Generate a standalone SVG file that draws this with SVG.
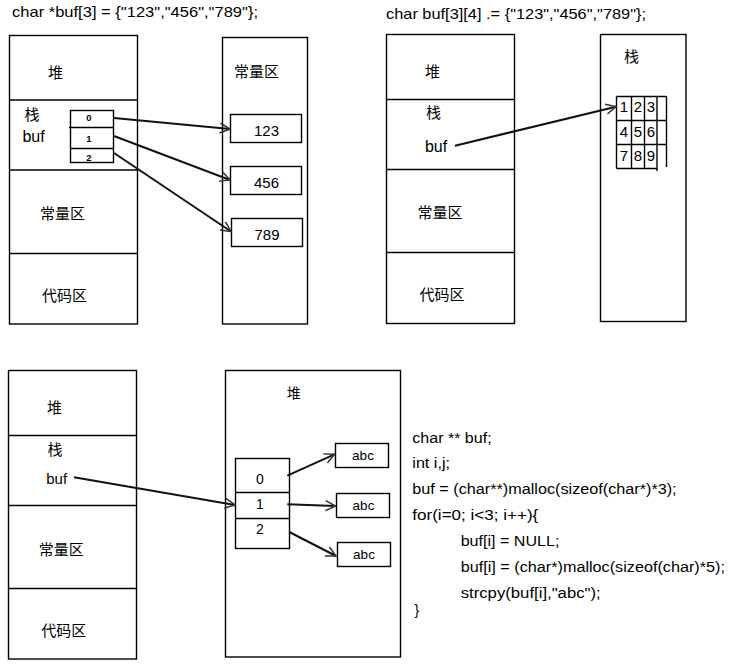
<svg xmlns="http://www.w3.org/2000/svg" width="730" height="669" viewBox="0 0 730 669">
<style>
.box{fill:#fff;stroke:#000;stroke-width:1.4}
.ln{stroke:#000;stroke-width:1.4;fill:none}
.t{font-family:"Liberation Sans","Noto Sans CJK SC",sans-serif;fill:#000}
.cj{font-family:"Noto Sans CJK SC","Noto Sans",sans-serif;font-size:15px;fill:#000;text-anchor:middle}
.c{text-anchor:middle}
.arr{stroke:#111;stroke-width:2;fill:none;marker-end:url(#ah)}
</style>
<defs>
<marker id="ah" viewBox="0 0 12 12" markerWidth="12" markerHeight="12" refX="11" refY="6" orient="auto" markerUnits="userSpaceOnUse">
<path d="M1,1 L11,6 L1,11" fill="none" stroke="#333" stroke-width="1.5"/>
</marker>
</defs>
<rect width="730" height="669" fill="#fff"/>

<!-- Titles -->
<text id="title1" class="t" x="12" y="17" font-size="15" textLength="246" lengthAdjust="spacingAndGlyphs">char *buf[3] = {"123","456","789"};</text>
<text id="title2" class="t" x="386" y="18.5" font-size="15" textLength="260" lengthAdjust="spacingAndGlyphs">char buf[3][4] .= {"123","456","789"};</text>

<!-- Diagram 1: memory layout -->
<g id="mem1">
<rect class="box" x="9.5" y="35.5" width="128" height="288.5"/>
<line class="ln" x1="9.5" y1="100" x2="137.5" y2="100"/>
<line class="ln" x1="9.5" y1="170" x2="137.5" y2="170"/>
<line class="ln" x1="9.5" y1="253.5" x2="137.5" y2="253.5"/>
<text class="cj" x="55.5" y="78">堆</text>
<text class="cj" x="32" y="120">栈</text>
<text class="t c" x="33.5" y="142" font-size="16">buf</text>
<text class="cj" x="62.5" y="219">常量区</text>
<text class="cj" x="64.5" y="301">代码区</text>
</g>
<g id="arr1">
<rect class="box" x="70.5" y="110.5" width="43" height="52"/>
<line class="ln" x1="69" y1="127.5" x2="113.5" y2="127.5"/>
<line class="ln" x1="70.5" y1="148.5" x2="113.5" y2="148.5"/>
<text class="t c" x="89" y="120.5" font-size="9.5" font-weight="bold">0</text>
<text class="t c" x="89" y="141.5" font-size="9.5" font-weight="bold">1</text>
<text class="t c" x="89" y="160.5" font-size="9.5" font-weight="bold">2</text>
</g>
<g id="const1">
<rect class="box" x="222.5" y="37.5" width="85" height="286.5"/>
<text class="cj" x="256.5" y="77">常量区</text>
</g>
<g id="s123"><rect class="box" x="230.5" y="114.5" width="71" height="28"/><text class="t c" x="266.5" y="136" font-size="15">123</text></g>
<g id="s456"><rect class="box" x="230.5" y="166.5" width="71" height="28"/><text class="t c" x="266.5" y="188" font-size="15">456</text></g>
<g id="s789"><rect class="box" x="231.5" y="218.5" width="71" height="28"/><text class="t c" x="267" y="240" font-size="15">789</text></g>

<!-- Diagram 2 -->
<g id="mem2">
<rect class="box" x="386.5" y="34.5" width="128" height="289"/>
<line class="ln" x1="386.5" y1="99.5" x2="514.5" y2="99.5"/>
<line class="ln" x1="386.5" y1="169.5" x2="514.5" y2="169.5"/>
<line class="ln" x1="386.5" y1="252.5" x2="514.5" y2="252.5"/>
<text class="cj" x="432.5" y="77">堆</text>
<text class="cj" x="433.5" y="118">栈</text>
<text class="t c" x="436" y="152" font-size="16">buf</text>
<text class="cj" x="440" y="218">常量区</text>
<text class="cj" x="442" y="299.5">代码区</text>
</g>
<g id="stack2">
<rect class="box" x="600.5" y="34.5" width="85.5" height="287"/>
<text class="cj" x="631.5" y="62">栈</text>
</g>
<g id="grid">
<line class="ln" x1="616.5" y1="96.5" x2="666.5" y2="96.5"/>
<line class="ln" x1="616.5" y1="120.5" x2="666.5" y2="120.5"/>
<line class="ln" x1="616.5" y1="144.5" x2="666.5" y2="144.5"/>
<line class="ln" x1="616.5" y1="168.5" x2="657" y2="168.5"/>
<line class="ln" x1="616.5" y1="96.5" x2="616.5" y2="168.5"/>
<line class="ln" x1="631.5" y1="96.5" x2="631.5" y2="168.5"/>
<line class="ln" x1="644.5" y1="96.5" x2="644.5" y2="168.5"/>
<line class="ln" x1="657" y1="96.5" x2="657" y2="171"/>
<line class="ln" x1="666.5" y1="96.5" x2="666.5" y2="167"/>
<text class="t c" x="624" y="112" font-size="15">1</text>
<text class="t c" x="638" y="112" font-size="15">2</text>
<text class="t c" x="651" y="112" font-size="15">3</text>
<text class="t c" x="624" y="137" font-size="15">4</text>
<text class="t c" x="638" y="137" font-size="15">5</text>
<text class="t c" x="651" y="137" font-size="15">6</text>
<text class="t c" x="624" y="161" font-size="15">7</text>
<text class="t c" x="638" y="161" font-size="15">8</text>
<text class="t c" x="651" y="161" font-size="15">9</text>
</g>

<!-- Diagram 3 -->
<g id="mem3">
<rect class="box" x="8.5" y="370.5" width="128" height="288.5"/>
<line class="ln" x1="8.5" y1="435.5" x2="136.5" y2="435.5"/>
<line class="ln" x1="8.5" y1="505.5" x2="136.5" y2="505.5"/>
<line class="ln" x1="8.5" y1="588.5" x2="136.5" y2="588.5"/>
<text class="cj" x="54.5" y="413">堆</text>
<text class="cj" x="55" y="455">栈</text>
<text class="t c" x="56.7" y="484" font-size="15">buf</text>
<text class="cj" x="61.3" y="555">常量区</text>
<text class="cj" x="63.7" y="635.5">代码区</text>
</g>
<g id="heap3">
<rect class="box" x="225.5" y="370.5" width="175" height="286.5"/>
<text class="cj" x="293.7" y="398" style="font-size:14px">堆</text>
</g>
<g id="parr">
<rect class="box" x="235.5" y="458.5" width="54" height="90"/>
<line class="ln" x1="235.5" y1="492.5" x2="289.5" y2="492.5"/>
<line class="ln" x1="235.5" y1="518.5" x2="289.5" y2="518.5"/>
<text class="t c" x="260" y="484" font-size="14">0</text>
<text class="t c" x="260" y="509" font-size="14">1</text>
<text class="t c" x="260" y="534" font-size="14">2</text>
</g>
<g id="abc1"><rect class="box" x="335.5" y="443.5" width="53" height="24"/><text class="t c" x="363" y="459.5" font-size="13.5">abc</text></g>
<g id="abc2"><rect class="box" x="336.5" y="493.5" width="53" height="24"/><text class="t c" x="363.5" y="509.5" font-size="13.5">abc</text></g>
<g id="abc3"><rect class="box" x="337.5" y="542.5" width="53" height="24"/><text class="t c" x="364" y="559" font-size="13.5">abc</text></g>

<!-- Code -->
<g id="code" class="t" font-size="14">
<text x="412.3" y="442.7" textLength="79.3" lengthAdjust="spacingAndGlyphs">char ** buf;</text>
<text x="412.3" y="468.3" textLength="37.7" lengthAdjust="spacingAndGlyphs">int i,j;</text>
<text x="412.3" y="494" textLength="264.3" lengthAdjust="spacingAndGlyphs">buf = (char**)malloc(sizeof(char*)*3);</text>
<text x="412.3" y="520" textLength="126" lengthAdjust="spacingAndGlyphs">for(i=0; i&lt;3; i++){</text>
<text x="460.7" y="546.3" textLength="98.7" lengthAdjust="spacingAndGlyphs">buf[i] = NULL;</text>
<text x="460.7" y="572" textLength="264.3" lengthAdjust="spacingAndGlyphs">buf[i] = (char*)malloc(sizeof(char)*5);</text>
<text x="460.7" y="597.7" textLength="140" lengthAdjust="spacingAndGlyphs">strcpy(buf[i],"abc");</text>
<text x="414.5" y="615">}</text>
</g>

<!-- Connectors -->
<g id="connectors">
<line class="arr" x1="114" y1="118" x2="230" y2="129"/>
<line class="arr" x1="114" y1="136" x2="230" y2="180"/>
<line class="arr" x1="114" y1="153" x2="231" y2="231.5"/>
<line class="arr" x1="455" y1="145.7" x2="616" y2="106.7"/>
<line class="arr" x1="74" y1="477.3" x2="235" y2="505"/>
<line class="arr" x1="287.3" y1="475.7" x2="334.5" y2="454.3"/>
<line class="arr" x1="287.3" y1="504.3" x2="335.5" y2="506"/>
<line class="arr" x1="289.3" y1="532" x2="336" y2="556"/>
</g>
</svg>
